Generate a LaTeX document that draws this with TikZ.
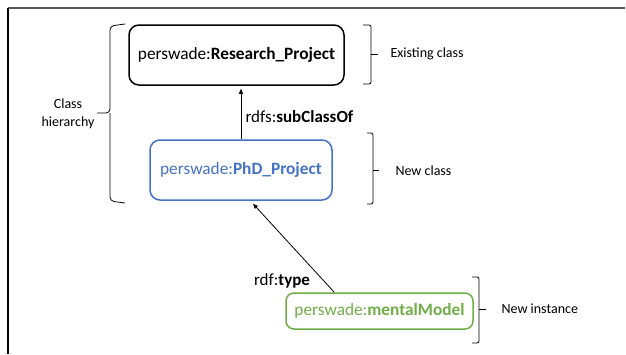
\documentclass[tikz,border=0pt]{standalone}
\usepackage{fontspec}
\setmainfont{Carlito}
\usetikzlibrary{arrows.meta,calc}
\definecolor{cblue}{HTML}{4472C4}
\definecolor{cgreen}{HTML}{70AD47}
\definecolor{frame}{HTML}{595959}
\tikzset{
  box/.style={draw, line width=1.5pt, rounded corners=10pt, inner sep=0pt, font=\fontsize{17.3}{20}\selectfont},
  brk/.style={draw, line width=0.8pt, rounded corners=2pt},
  arr/.style={line width=0.8pt, -{Triangle[length=5pt,width=4pt]}},
  side/.style={font=\fontsize{14}{17}\selectfont, anchor=west},
  lbl/.style={font=\fontsize{17}{20}\selectfont}
}
\begin{document}
\begin{tikzpicture}[x=1pt,y=-1pt]
\useasboundingbox (0,0) rectangle (626,354);
% frame
\coordinate (f0) at (8,8);
\coordinate (f1) at (625,8);
\coordinate (f2) at (8,354);
\draw[frame, line width=1.3pt] (f0) -- (f1);
\draw[black, line width=1.3pt] (f0) -- (f2);
% boxes
\node[box, minimum width=215pt, minimum height=60pt] (res) at (236.5,55) {perswade:\textbf{Research\_Project}};
\node[box, draw=cblue, text=cblue, minimum width=182pt, minimum height=60pt] (phd) at (241,170) {perswade:\textbf{PhD\_Project}};
\node[box, draw=cgreen, text=cgreen, minimum width=187pt, minimum height=36pt, rounded corners=8pt] (mm) at (379.5,311) {perswade:\textbf{mentalModel}};
% arrows
\draw[arr] (phd.north) -- ($(phd.north |- res.south)+(0,3)$);
\node[lbl, anchor=west] (sub) at (242,117) {rdfs:\textbf{subClassOf}};
\coordinate (mmtop) at ($(mm.north west)+(49,0)$);
\coordinate (phdb) at ($(phd.south)+(12,3)$);
\draw[arr] (mmtop) -- (phdb);
\node[lbl] (typ) at (282,281) {rdf:\textbf{type}};
% left brace
\draw[brk, rounded corners=4pt] (125,24) -- (110,26) -- (110,113) -- (97,113);
\draw[brk, rounded corners=4pt] (125,203) -- (110,201) -- (110,113);
\node[font=\fontsize{14}{18}\selectfont, align=center] (ch) at (68,114) {Class\\hierarchy};
% right brackets
\draw[brk] (363,25) -- (371,25) -- (371,84) -- (363,84);
\draw[brk] (371,54) -- (378,54);
\node[side] (ex) at (387,54) {Existing class};
\draw[brk] (367,133) -- (373,133) -- (373,204) -- (367,204);
\draw[brk] (373,170) -- (379,170);
\node[side] (nc) at (392,171) {New class};
\draw[brk] (472,277) -- (479,277) -- (479,343) -- (472,343);
\draw[brk] (479,309) -- (486,309);
\node[side] (ni) at (498,309) {New instance};
\end{tikzpicture}
\end{document}
